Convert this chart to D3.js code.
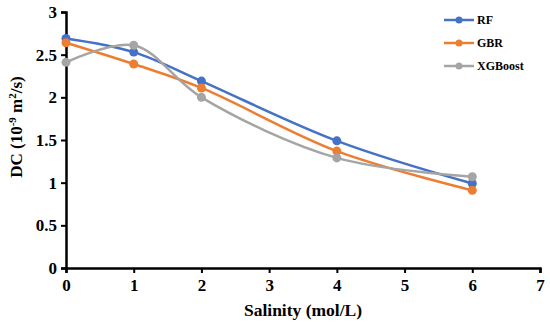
<!DOCTYPE html>
<html>
<head>
<meta charset="utf-8">
<script src="https://cdn.jsdelivr.net/npm/d3@7"></script>
<style>
  body { margin: 0; background: #fff; }
  text { font-family: "Liberation Serif", "Times New Roman", serif; font-weight: bold; }
</style>
</head>
<body>
<div id="chart" style="width:550px;height:327px"></div>
<script>
const salinity = [0, 1, 2, 4, 6];
const rf = [2.69, 2.53, 2.19, 1.49, 0.99];
const gbr = [2.64, 2.39, 2.11, 1.37, 0.91];
const xgb = [2.41, 2.61, 2.00, 1.29, 1.07];
const seriesNames = ["RF", "GBR", "XGBoost"];
const seriesColors = ["#4472C4", "#ED7D31", "#A5A5A5"];
const xTicks = [0, 1, 2, 3, 4, 5, 6, 7];
const yTicks = [0, 0.5, 1, 1.5, 2, 2.5, 3];

const drawChart = function () {
    const node = document.querySelector("#chart");
    const width = 550, height = 327;
    const margin = {top: 12, right: 10, bottom: 59, left: 66};
    const innerWidth = 540 - margin.left;
    const innerHeight = height - margin.top - margin.bottom;

    const svg = d3.select(node).append("svg")
        .attr("width", width)
        .attr("height", height)
        .append("g")
        .attr("transform", "translate(" + margin.left + "," + margin.top + ")");

    const x = d3.scaleLinear().domain([0, 7]).range([0, innerWidth]);
    const y = d3.scaleLinear().domain([0, 3]).range([innerHeight, 0]);

    const yAxis = d3.axisLeft(y).tickValues(yTicks).tickSize(5).tickPadding(4)
        .tickFormat(d => d);
    const gy = svg.append("g").call(yAxis);
    gy.select(".domain").attr("stroke-width", 2.5);
    gy.selectAll(".tick line").attr("stroke-width", 2);
    gy.selectAll("text").style("font-size", "17px").attr("fill", "#000");

    const xAxis = d3.axisBottom(x).tickValues(xTicks).tickSize(5).tickPadding(6)
        .tickFormat(d => d);
    const gx = svg.append("g")
        .attr("transform", "translate(0," + innerHeight + ")")
        .call(xAxis);
    gx.select(".domain").attr("stroke-width", 2.5);
    gx.selectAll(".tick line").attr("stroke-width", 2);
    gx.selectAll("text").style("font-size", "17px").attr("fill", "#000");

    const all = [rf, gbr, xgb];
    const line = d3.line()
        .x((d, i) => x(salinity[i]))
        .y(d => y(d))
        .curve(d3.curveCatmullRom.alpha(0.5));

    all.forEach(function (vals, k) {
        svg.append("path")
            .datum(vals)
            .attr("fill", "none")
            .attr("stroke", seriesColors[k])
            .attr("stroke-width", 2.5)
            .attr("d", line);
    });
    all.forEach(function (vals, k) {
        svg.selectAll(".dot" + k)
            .data(vals)
            .enter()
            .append("circle")
            .attr("cx", (d, i) => x(salinity[i]))
            .attr("cy", d => y(d))
            .attr("r", 4.5)
            .attr("fill", seriesColors[k]);
    });

    // legend
    const legend = svg.append("g").attr("transform", "translate(" + (444 - margin.left) + ",0)");
    seriesNames.forEach(function (name, k) {
        const gy0 = 8 + k * 23;
        legend.append("line")
            .attr("x1", 0).attr("x2", 30)
            .attr("y1", gy0).attr("y2", gy0)
            .attr("stroke", seriesColors[k]).attr("stroke-width", 2.5);
        legend.append("circle")
            .attr("cx", 15).attr("cy", gy0).attr("r", 3.5)
            .attr("fill", seriesColors[k]);
        legend.append("text")
            .attr("x", 33).attr("y", gy0 + 4)
            .style("font-size", "12px")
            .text(name);
    });

    // axis titles
    svg.append("text")
        .attr("x", innerWidth / 2)
        .attr("y", innerHeight + 48)
        .attr("text-anchor", "middle")
        .style("font-size", "17.5px")
        .text("Salinity (mol/L)");

    const yt = svg.append("text")
        .attr("transform", "translate(" + (-44) + "," + (127 - margin.top) + ") rotate(-90)")
        .attr("text-anchor", "middle")
        .style("font-size", "17px");
    yt.append("tspan").text("DC (10");
    yt.append("tspan").attr("baseline-shift", "super").style("font-size", "11px").text("-9");
    yt.append("tspan").text(" m");
    yt.append("tspan").attr("baseline-shift", "super").style("font-size", "11px").text("2");
    yt.append("tspan").text("/s)");
};
drawChart();
</script>
</body>
</html>
